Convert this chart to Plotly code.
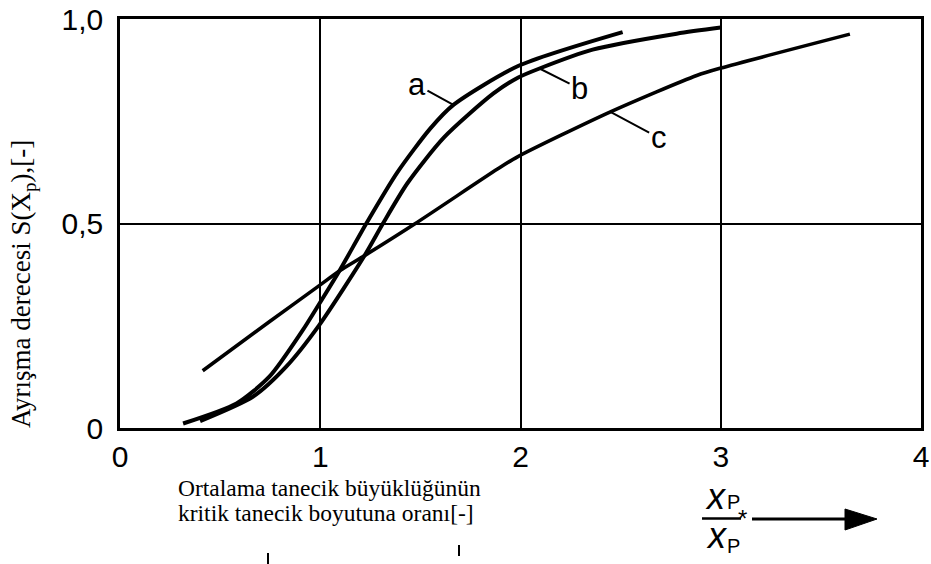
import numpy as np
import plotly.graph_objects as go

# Separation efficiency curves S(x_P) against relative particle size x_P / x_P*
a_x = [0.315, 0.582, 0.747, 0.911, 0.993, 1.099, 1.230, 1.385, 1.549, 1.665, 1.988, 2.51]
a_y = [0.011, 0.060, 0.126, 0.238, 0.302, 0.387, 0.500, 0.625, 0.732, 0.790, 0.885, 0.968]

b_x = [0.40, 0.665, 0.83, 0.994, 1.223, 1.313, 1.436, 1.617, 1.865, 1.989, 2.095, 2.36, 2.78, 3.0]
b_y = [0.017, 0.077, 0.150, 0.251, 0.423, 0.500, 0.599, 0.710, 0.818, 0.857, 0.879, 0.925, 0.964, 0.979]

c_x = [0.413, 0.744, 1.0, 1.099, 1.223, 1.475, 1.885, 1.985, 2.449, 2.88, 3.0, 3.645]
c_y = [0.140, 0.259, 0.350, 0.385, 0.422, 0.500, 0.633, 0.663, 0.773, 0.862, 0.880, 0.963]

x_ticks = [0, 1, 2, 3, 4]
y_ticks = [0, 0.5, 1.0]
y_tick_text = ["0", "0,5", "1,0"]

W, H = 931, 564
ML, MR, MT, MB = 120, 10, 19, 136
PW, PH = W - ML - MR, H - MT - MB


def px(x):
    return (x - ML) / PW


def py(y):
    return (H - MB - y) / PH


SANS = "Liberation Sans, Arial, sans-serif"
SERIF = "Liberation Serif, Times New Roman, serif"

fig = go.Figure()
for xs, ys, w in [(a_x, a_y, 4), (b_x, b_y, 4), (c_x, c_y, 3.6)]:
    fig.add_trace(go.Scatter(
        x=xs, y=ys, mode="lines",
        line=dict(color="black", width=w, shape="spline", smoothing=0.7),
        hoverinfo="skip", showlegend=False,
    ))

# curve labels with leader lines
labels = [
    ("a", a_x, a_y, 1.665, 1.483, 0.839),
    ("b", b_x, b_y, 2.095, 2.295, 0.830),
    ("c", c_x, c_y, 2.449, 2.690, 0.710),
]
annotations = []
for name, xs, ys, xp, tx, ty in labels:
    annotations.append(dict(
        x=xp, y=float(np.interp(xp, xs, ys)), xref="x", yref="y",
        ax=tx, ay=ty, axref="x", ayref="y",
        text=name, showarrow=True, arrowhead=0, arrowwidth=2,
        arrowcolor="black", standoff=0, startstandoff=0,
        font=dict(family=SANS, size=31, color="black"),
    ))

# axis titles
annotations.append(dict(
    x=px(23), y=py(284), xref="paper", yref="paper",
    text="Ayrışma derecesi S(X<sub>p</sub>),[-]", textangle=-90,
    showarrow=False, xanchor="center", yanchor="middle",
    font=dict(family=SERIF, size=27, color="black"),
))
for txt, ybase in [("Ortalama tanecik büyüklüğünün", 488),
                   ("kritik tanecik boyutuna oranı[-]", 513)]:
    annotations.append(dict(
        x=px(176), y=py(ybase), xref="paper", yref="paper",
        text=txt, showarrow=False, xanchor="left", yanchor="middle",
        font=dict(family=SERIF, size=23.5, color="black"),
    ))

# x_P / x_P* fraction
frac_parts = [
    ("<i>x</i>", 716, 496, 36),
    ("P", 733, 502, 20),
    ("<i>x</i>", 717, 535, 36),
    ("P", 733, 546, 20),
    ("*", 742, 518, 24),
]
for txt, cx, cy, fs in frac_parts:
    annotations.append(dict(
        x=px(cx), y=py(cy), xref="paper", yref="paper",
        text=txt, showarrow=False, xanchor="center", yanchor="middle",
        font=dict(family=SANS, size=fs, color="black"),
    ))

shapes = [
    dict(type="line", xref="paper", yref="paper",
         x0=px(702), x1=px(741), y0=py(518.5), y1=py(518.5),
         line=dict(color="black", width=2.5)),
    dict(type="line", xref="paper", yref="paper",
         x0=px(752), x1=px(850), y0=py(519), y1=py(519),
         line=dict(color="black", width=3)),
    dict(type="path", xref="paper", yref="paper",
         path=f"M {px(845)},{py(509)} L {px(877)},{py(519)} L {px(845)},{py(530)} Z",
         fillcolor="black", line=dict(color="black", width=1)),
    dict(type="line", xref="paper", yref="paper",
         x0=px(268), x1=px(268), y0=py(553), y1=py(564),
         line=dict(color="black", width=2)),
    dict(type="line", xref="paper", yref="paper",
         x0=px(459), x1=px(459), y0=py(545), y1=py(556),
         line=dict(color="black", width=2)),
]

fig.update_layout(
    width=W, height=H, autosize=False,
    margin=dict(l=ML, r=MR, t=MT, b=MB, pad=0),
    paper_bgcolor="white", plot_bgcolor="white",
    annotations=annotations, shapes=shapes,
    showlegend=False,
)
fig.update_xaxes(
    range=[0, 4], tickvals=x_ticks, ticktext=[str(v) for v in x_ticks],
    showgrid=True, gridcolor="black", gridwidth=1.5,
    showline=True, linecolor="black", linewidth=2.5, mirror=True,
    zeroline=False, ticks="", ticklabelstandoff=0, automargin=False,
    tickfont=dict(family=SANS, size=30, color="black"),
    fixedrange=True,
)
fig.update_yaxes(
    range=[0, 1], tickvals=y_ticks, ticktext=y_tick_text,
    showgrid=True, gridcolor="black", gridwidth=1.5,
    showline=True, linecolor="black", linewidth=2.5, mirror=True,
    zeroline=False, ticks="", ticklabelstandoff=8, automargin=False,
    tickfont=dict(family=SANS, size=30, color="black"),
    fixedrange=True,
)

fig.write_html("out.html")
